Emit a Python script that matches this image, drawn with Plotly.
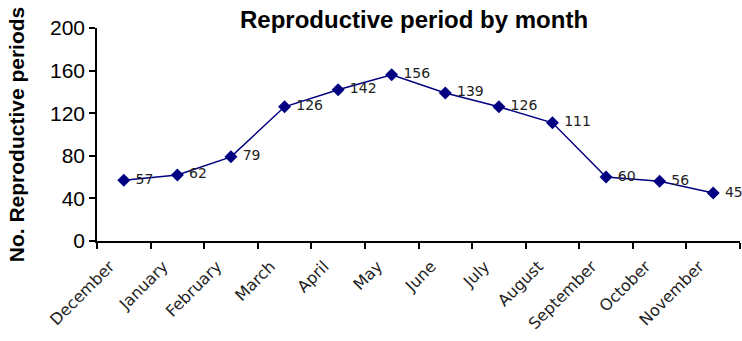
import plotly.graph_objects as go

months = ["December", "January", "February", "March", "April", "May",
          "June", "July", "August", "September", "October", "November"]
periods = [57, 62, 79, 126, 142, 156, 139, 126, 111, 60, 56, 45]
y_ticks = [0, 40, 80, 120, 160, 200]

label_font = "DejaVu Sans, Lato, sans-serif"
axis_font = "Liberation Sans, Arial, sans-serif"

fig = go.Figure(
    go.Scatter(
        x=months,
        y=periods,
        mode="lines+markers+text",
        text=[f" {v}" for v in periods],
        textposition="middle right",
        textfont=dict(family=label_font, size=14, color="#222222"),
        line=dict(color="#000080", width=1.5),
        marker=dict(symbol="diamond", size=10, color="#000080"),
        cliponaxis=False,
        showlegend=False,
    )
)

fig.update_layout(
    width=742,
    height=341,
    margin=dict(l=97, r=2, t=28, b=100),
    paper_bgcolor="white",
    plot_bgcolor="white",
    title=dict(
        text="<b>Reproductive period by month</b>",
        x=0.558,
        xanchor="center",
        y=0.943,
        yanchor="middle",
        font=dict(family=axis_font, size=24, color="black"),
    ),
)

fig.update_xaxes(
    type="category",
    range=[-0.5, len(months) - 0.5],
    automargin=False,
    showline=True,
    linecolor="black",
    linewidth=1.5,
    ticks="outside",
    ticklen=6,
    tickcolor="black",
    tickwidth=1.5,
    tickson="boundaries",
    tickangle=-45,
    ticklabelstandoff=8,
    ticklabelshift=-14,
    tickfont=dict(family=label_font, size=16, color="#222222"),
    showgrid=False,
    zeroline=False,
)

fig.update_yaxes(
    range=[0, 200],
    tickvals=y_ticks,
    automargin=False,
    showline=True,
    linecolor="black",
    linewidth=1.5,
    ticks="outside",
    ticklen=6,
    tickcolor="black",
    tickwidth=1.5,
    tickfont=dict(family=axis_font, size=21, color="black"),
    showgrid=False,
    zeroline=False,
    title=dict(
        text="<b>No. Reproductive periods</b>",
        font=dict(family=axis_font, size=21, color="black"),
        standoff=20,
    ),
)

fig.write_html("out.html")
